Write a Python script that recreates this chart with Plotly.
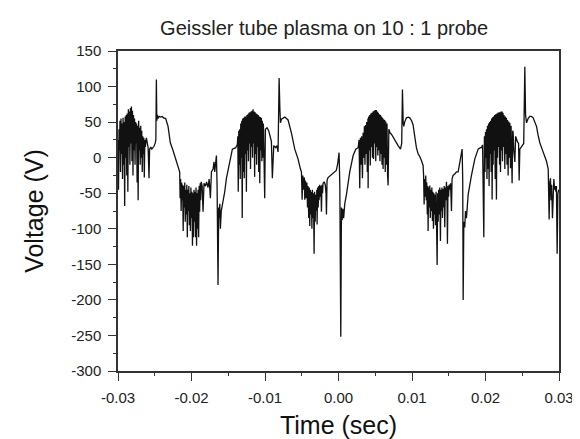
import plotly.graph_objects as go

# Geissler tube plasma trace (time in ms, voltage in V)
time_ms = [
    -30.00, -29.93, -29.86, -29.80, -29.73, -29.66, -29.59, -29.52, -29.45, -29.38,
    -29.31, -29.24, -29.17, -29.09, -29.02, -28.95, -28.88, -28.81, -28.74, -28.66,
    -28.59, -28.52, -28.45, -28.38, -28.31, -28.24, -28.17, -28.10, -28.03, -27.96,
    -27.89, -27.82, -27.75, -27.68, -27.61, -27.54, -27.47, -27.40, -27.33, -27.26,
    -27.19, -27.12, -27.05, -26.98, -26.91, -26.84, -26.77, -26.70, -26.63, -26.56,
    -26.49, -26.42, -26.35, -26.28, -26.14, -26.00, -25.90, -25.78, -25.70, -25.55,
    -25.40, -25.25, -25.10, -24.95, -24.85, -24.78, -24.72, -24.65, -24.55, -24.40,
    -24.20, -24.00, -23.80, -23.51, -23.19, -22.88, -22.51, -22.29, -21.83, -21.61,
    -21.55, -21.48, -21.41, -21.34, -21.27, -21.20, -21.13, -21.06, -20.99, -20.92,
    -20.85, -20.78, -20.71, -20.64, -20.57, -20.50, -20.43, -20.36, -20.29, -20.22,
    -20.15, -20.08, -20.01, -19.94, -19.87, -19.80, -19.73, -19.66, -19.59, -19.52,
    -19.45, -19.38, -19.31, -19.24, -19.17, -19.10, -19.03, -18.96, -18.89, -18.82,
    -18.75, -18.68, -18.55, -18.43, -18.30, -18.10, -17.95, -17.75, -17.60, -17.43,
    -17.29, -17.07, -16.93, -16.84, -16.71, -16.61, -16.52, -16.39, -16.30, -16.25,
    -16.15, -16.07, -15.95, -15.71, -15.48, -15.25, -14.80, -14.44, -13.98, -13.76,
    -13.70, -13.64, -13.57, -13.50, -13.44, -13.37, -13.30, -13.23, -13.16, -13.10,
    -13.03, -12.96, -12.89, -12.82, -12.75, -12.68, -12.61, -12.53, -12.46, -12.39,
    -12.32, -12.25, -12.18, -12.11, -12.04, -11.97, -11.90, -11.83, -11.76, -11.69,
    -11.62, -11.55, -11.48, -11.41, -11.34, -11.27, -11.20, -11.13, -11.06, -10.99,
    -10.92, -10.85, -10.78, -10.71, -10.64, -10.57, -10.50, -10.43, -10.36, -10.29,
    -10.22, -10.15, -10.04, -9.95, -9.72, -9.50, -9.36, -9.13, -9.00, -8.90,
    -8.81, -8.54, -8.36, -8.22, -8.08, -7.98, -7.90, -7.77, -7.31, -6.86,
    -6.41, -5.95, -5.50, -5.18, -5.04, -4.95, -4.85, -4.75, -4.65, -4.59,
    -4.50, -4.40, -4.30, -4.22, -4.15, -4.05, -3.98, -3.91, -3.84, -3.77,
    -3.70, -3.62, -3.55, -3.48, -3.40, -3.32, -3.25, -3.17, -3.10, -3.02,
    -2.95, -2.91, -2.84, -2.76, -2.69, -2.64, -2.55, -2.47, -2.40, -2.32,
    -2.25, -2.17, -2.10, -1.95, -1.80, -1.70, -1.64, -1.56, -1.42, -1.10,
    -0.75, -0.30, -0.10, 0.08, 0.18, 0.31, 0.40, 0.50, 0.58, 0.70,
    0.85, 1.08, 1.53, 1.99, 2.35, 2.67, 2.80, 2.89, 2.98, 3.06,
    3.15, 3.26, 3.35, 3.44, 3.52, 3.60, 3.68, 3.76, 3.84, 3.92,
    4.00, 4.03, 4.10, 4.17, 4.25, 4.32, 4.40, 4.48, 4.55, 4.62,
    4.70, 4.77, 4.85, 4.92, 5.00, 5.07, 5.14, 5.21, 5.28, 5.35,
    5.42, 5.50, 5.57, 5.64, 5.71, 5.78, 5.85, 5.92, 6.00, 6.07,
    6.14, 6.21, 6.28, 6.36, 6.43, 6.52, 6.60, 6.68, 6.75, 6.85,
    7.00, 7.20, 7.45, 7.66, 7.90, 8.11, 8.30, 8.43, 8.60, 8.70,
    8.80, 8.88, 9.00, 9.24, 9.50, 9.70, 9.95, 10.15, 10.40, 10.60,
    10.85, 11.05, 11.28, 11.51, 11.58, 11.65, 11.72, 11.80, 11.87, 11.94,
    12.01, 12.08, 12.15, 12.19, 12.26, 12.33, 12.42, 12.49, 12.56, 12.63,
    12.70, 12.78, 12.85, 12.92, 12.99, 13.06, 13.13, 13.20, 13.28, 13.35,
    13.42, 13.49, 13.56, 13.63, 13.70, 13.78, 13.87, 13.94, 14.01, 14.08,
    14.15, 14.22, 14.30, 14.38, 14.46, 14.53, 14.60, 14.69, 14.76, 14.82,
    14.90, 14.98, 15.05, 15.15, 15.25, 15.37, 15.45, 15.59, 15.82, 16.05,
    16.28, 16.45, 16.64, 16.82, 16.90, 16.96, 17.05, 17.18, 17.28, 17.41,
    17.64, 17.85, 18.09, 18.54, 19.00, 19.30, 19.45, 19.60, 19.77, 19.85,
    19.93, 20.00, 20.07, 20.13, 20.20, 20.27, 20.36, 20.42, 20.49, 20.56,
    20.63, 20.70, 20.77, 20.84, 20.90, 20.97, 21.04, 21.11, 21.18, 21.25,
    21.32, 21.39, 21.49, 21.56, 21.63, 21.70, 21.77, 21.84, 21.91, 21.98,
    22.04, 22.11, 22.18, 22.25, 22.31, 22.38, 22.45, 22.52, 22.59, 22.63,
    22.70, 22.78, 22.85, 22.93, 23.00, 23.08, 23.15, 23.22, 23.31, 23.40,
    23.48, 23.55, 23.62, 23.70, 23.76, 23.85, 23.99, 24.10, 24.20, 24.35,
    24.50, 24.58, 24.67, 24.85, 25.03, 25.20, 25.35, 25.45, 25.58, 25.80,
    26.03, 26.25, 26.48, 26.70, 26.94, 27.15, 27.39, 27.70, 28.07, 28.30,
    28.53, 28.60, 28.66, 28.75, 28.84, 28.92, 29.00, 29.11, 29.20, 29.30,
    29.40, 29.50, 29.57, 29.65, 29.75, 29.85, 29.98,
]

volts = [
    25, -45, 40, 10, 52, -20, 55, 5, 48, -30,
    56, -10, 50, -68, 58, 0, 60, -25, 62, -48,
    68, 15, 65, -10, 70, 20, 72, -5, 66, -25,
    60, 10, 55, -10, 50, 20, 48, -35, 45, -60,
    52, 10, 42, -10, 45, 0, 38, -20, 30, 5,
    28, -28, 25, 15, 28, 15, 14, -29, 12, 15,
    12, 14, 16, 20, 25, 110, 52, 60, 55, 58,
    57, 58, 56, 55, 44, 21, 10, 3, -11, -20,
    -57, -30, -75, -35, -60, -38, -103, -40, -70, -35,
    -90, -45, -80, -38, -112, -45, -75, -40, -95, -50,
    -103, -42, -85, -48, -124, -50, -112, -45, -90, -48,
    -112, -42, -124, -50, -100, -45, -112, -40, -76, -36,
    -60, -34, -40, -76, -36, -40, -34, -42, -30, -57,
    -20, -16, -6, -20, -4, 3, -39, -179, -70, -85,
    -65, -100, -75, -62, -48, -29, -4, 12, 14, 19,
    30, -48, 38, -10, 40, -30, 48, 0, 52, -85,
    55, -20, 56, -29, 58, 5, 58, -48, 60, 10,
    61, -5, 63, 20, 64, -16, 65, 15, 66, 0,
    68, 20, 65, -27, 64, 5, 62, -10, 61, 15,
    60, -20, 58, -36, 57, 10, 56, -5, 52, 0,
    48, -30, -57, 40, 42, 38, 33, 23, -29, 10,
    17, 14, 17, 8, 112, 70, 49, 54, 57, 53,
    35, 12, -2, -16, -20, -59, -25, -45, -28, -59,
    -32, -57, -35, -70, -40, -85, -42, -96, -45, -80,
    -48, -100, -45, -85, -50, -135, -48, -90, -52, -75,
    -45, -94, -42, -70, -40, -60, -38, -55, -40, -76,
    -38, -50, -36, -34, -38, -50, -80, -32, -28, -25,
    -22, -18, -8, 7, -40, -252, -70, -88, -72, -85,
    -65, -52, -20, 3, 12, 14, 25, -43, 28, -10,
    30, -29, 35, 0, 44, -10, 46, 5, 50, -20,
    55, -43, 58, 10, 60, -11, 62, 15, 63, 0,
    65, -2, 66, 20, 67, -5, 67, 15, 65, 3,
    63, 10, 61, -5, 60, 5, 58, -10, 56, -16,
    54, 0, 53, -20, 51, -10, 48, -25, -39, 40,
    35, 33, 28, 26, 20, 17, 14, 12, 20, 96,
    50, 44, 50, 56, 57, 56, 52, 46, 28, 14,
    5, 2, -4, -11, -25, -66, -30, -55, -25, -60,
    -35, -80, -40, -103, -42, -70, -39, -85, -45, -75,
    -42, -89, -48, -100, -50, -80, -52, -95, -48, -110,
    -151, -50, -90, -45, -80, -42, -117, -45, -75, -42,
    -85, -44, -70, -40, -98, -42, -60, -34, -55, -121,
    -40, -55, -38, -45, -36, -75, -30, -25, -23, -20,
    -20, -10, -2, 12, -30, -200, -90, -98, -75, -85,
    -52, -38, -25, -2, 12, 14, 14, 18, -112, 30,
    -20, 36, 0, 40, -30, 45, -16, 48, -40, 50,
    5, 52, -20, 55, -59, 57, -10, 58, 10, 60,
    -30, 61, -59, 62, 0, 63, 15, 64, -10, 64,
    -20, 65, 10, 65, -5, 63, 15, 60, -5, -16,
    58, 5, 56, -10, 53, -25, 51, 0, 49, -15,
    45, 10, -36, 38, 35, 10, -6, 30, 25, 22,
    20, -32, 12, 15, 17, 20, 128, 60, 49, 55,
    58, 58, 56, 50, 44, 32, 21, 12, 3, -5,
    -16, -40, -87, -35, -29, -60, -38, -85, -40, -30,
    -45, -40, -48, -40, -135, -50, -45,
]

x_tickvals = [-0.03, -0.02, -0.01, 0.0, 0.01, 0.02, 0.03]
x_ticktext = ["-0.03", "-0.02", "-0.01", "0.00", "0.01", "0.02", "0.03"]
y_tickvals = [-300, -250, -200, -150, -100, -50, 0, 50, 100, 150]
y_ticktext = ["-300", "-250", "-200", "-150", "-100", "-50", "0", "50", "100", "150"]

time_s = [t / 1000 for t in time_ms]

fig = go.Figure()
fig.add_trace(go.Scatter(
    x=time_s, y=volts, mode="lines",
    line=dict(color="#111111", width=1.3),
    showlegend=False, hoverinfo="skip",
))

axis_common = dict(
    showgrid=False, zeroline=False,
    showline=True, linecolor="#333333", linewidth=1.5, mirror=True,
    ticks="outside", ticklen=8, tickwidth=1.2, tickcolor="#333333",
    ticklabelstandoff=4,
    tickfont=dict(size=15, color="#222222"),
)

fig.update_layout(
    width=580, height=439,
    margin=dict(l=110, r=29, t=43, b=70),
    paper_bgcolor="white", plot_bgcolor="white",
    font=dict(family="Liberation Sans, Arial, sans-serif", color="#111111"),
    title=dict(
        text="Geissler tube plasma on 10 : 1 probe",
        font=dict(size=20, color="#222222"),
        x=0.545, xref="container", xanchor="center",
        y=0.955, yref="container", yanchor="middle",
    ),
    xaxis=dict(
        range=[-0.03, 0.03],
        tickvals=x_tickvals, ticktext=x_ticktext,
        minor=dict(ticks="outside", ticklen=3, dtick=0.005, tick0=0, tickcolor="#333333"),
        title=dict(text="Time (sec)", font=dict(size=25), standoff=12),
        **axis_common,
    ),
    yaxis=dict(
        range=[-300, 150],
        tickvals=y_tickvals, ticktext=y_ticktext,
        minor=dict(ticks="outside", ticklen=3, dtick=25, tick0=0, tickcolor="#333333"),
        title=dict(text="Voltage (V)", font=dict(size=25), standoff=20),
        **axis_common,
    ),
)

fig.write_html("out.html")
